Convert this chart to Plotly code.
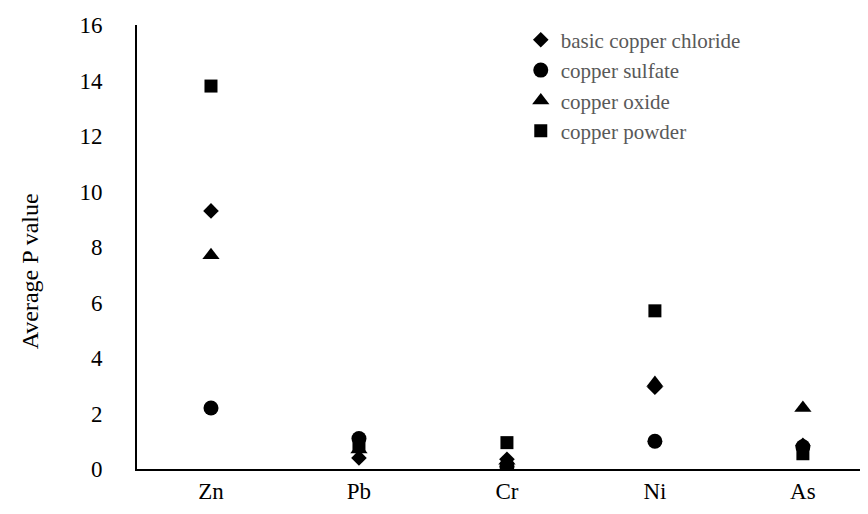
import plotly.graph_objects as go

categories = ["Zn", "Pb", "Cr", "Ni", "As"]
basic_copper_chloride = [9.3, 0.4, 0.35, 2.95, 0.85]
copper_sulfate = [2.2, 1.1, 0.1, 1.0, 0.8]
copper_oxide = [7.7, 0.7, 0.3, 3.1, 2.2]
copper_powder = [13.8, 0.85, 0.95, 5.7, 0.55]
y_ticks = [0, 2, 4, 6, 8, 10, 12, 14, 16]
y_title = "Average P value"

series = [
    ("basic copper chloride", basic_copper_chloride, "diamond", 12),
    ("copper sulfate", copper_sulfate, "circle", 15),
    ("copper oxide", copper_oxide, "triangle-up", 15),
    ("copper powder", copper_powder, "square", 13),
]

fig = go.Figure()
for name, vals, sym, sz in series:
    fig.add_trace(go.Scatter(
        x=list(range(len(categories))), y=vals, mode="markers", name=name,
        marker=dict(symbol=sym, size=sz, color="black", line=dict(width=0)),
    ))

font = "Liberation Serif"
fig.update_layout(
    width=860, height=506,
    margin=dict(l=129, r=0, t=17, b=45),
    plot_bgcolor="white", paper_bgcolor="white",
    font=dict(family=font, size=24, color="black"),
    showlegend=True,
    legend=dict(x=0.525, y=1.012, xanchor="left", yanchor="top",
                font=dict(family=font, size=21, color="#595959"),
                bgcolor="rgba(0,0,0,0)", itemwidth=30, tracegroupgap=0),
    xaxis=dict(range=[-0.5, 4.44], tickmode="array",
               tickvals=list(range(len(categories))), ticktext=categories,
               showgrid=False, zeroline=False, showline=True,
               linecolor="black", linewidth=2, ticks="", ticklen=0,
               tickfont=dict(family=font, size=23, color="black")),
    yaxis=dict(range=[0, 16], tickmode="array", tickvals=y_ticks,
               showgrid=False, zeroline=False, showline=True,
               linecolor="black", linewidth=2, ticks="", ticklen=0,
               ticklabelstandoff=28,
               tickfont=dict(family=font, size=23, color="black")),
    annotations=[dict(text=y_title, xref="paper", yref="paper",
                      x=-0.146, y=0.446, xanchor="center", yanchor="middle",
                      textangle=-90, showarrow=False,
                      font=dict(family=font, size=24, color="black"))],
)

fig.write_html("out.html")
